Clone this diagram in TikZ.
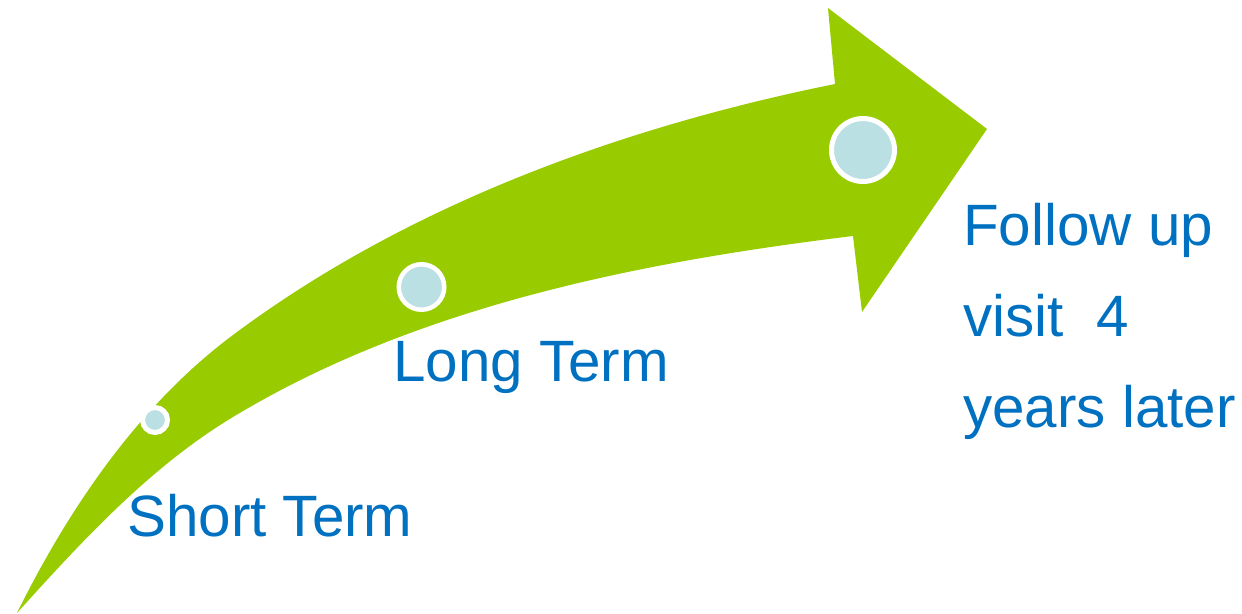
\documentclass[tikz,border=0pt]{standalone}
\usepackage{fontspec}
\setmainfont{Liberation Sans}
\definecolor{arrowgreen}{HTML}{99CC00}
\definecolor{dotblue}{HTML}{BBE0E4}
\definecolor{textblue}{HTML}{0070C0}
\tikzset{
  label text/.style={text=textblue, inner sep=0pt, anchor=base west,
    font={\fontsize{33.2}{52}\selectfont}, align=left},
  dot/.style={circle, draw=white, fill=dotblue, inner sep=0pt},
}
\begin{document}
\begin{tikzpicture}[x=0.02cm, y=-0.02cm]
\useasboundingbox (0,0) rectangle (1242,614);
% curved arrow body and head
\fill[arrowgreen] (17,613)
  .. controls (69,508) and (139,405) .. (233,335)
  .. controls (407,205) and (622,127) .. (835,84)
  -- (828,8) -- (987,129) -- (862,312) -- (853,236)
  .. controls (640,262) and (417,306) .. (233,417)
  .. controls (150,467) and (82,541) .. (17,613)
  -- cycle;
% milestones
\node[dot, minimum size=0.5cm, line width=0.1cm] (d1) at (155,420) {};
\node[dot, minimum size=0.91cm, line width=0.09cm] (d2) at (421.5,287) {};
\node[dot, minimum size=1.26cm, line width=0.1cm] (d3) at (863,150) {};
% labels
\node[label text] (short) at (127,537) {Short Term};
\node[label text] (long) at (393,382) {Long Term};
\node[label text] (follow) at (963,428) {Follow up\\visit\ \ 4\\years later};
\end{tikzpicture}
\end{document}
